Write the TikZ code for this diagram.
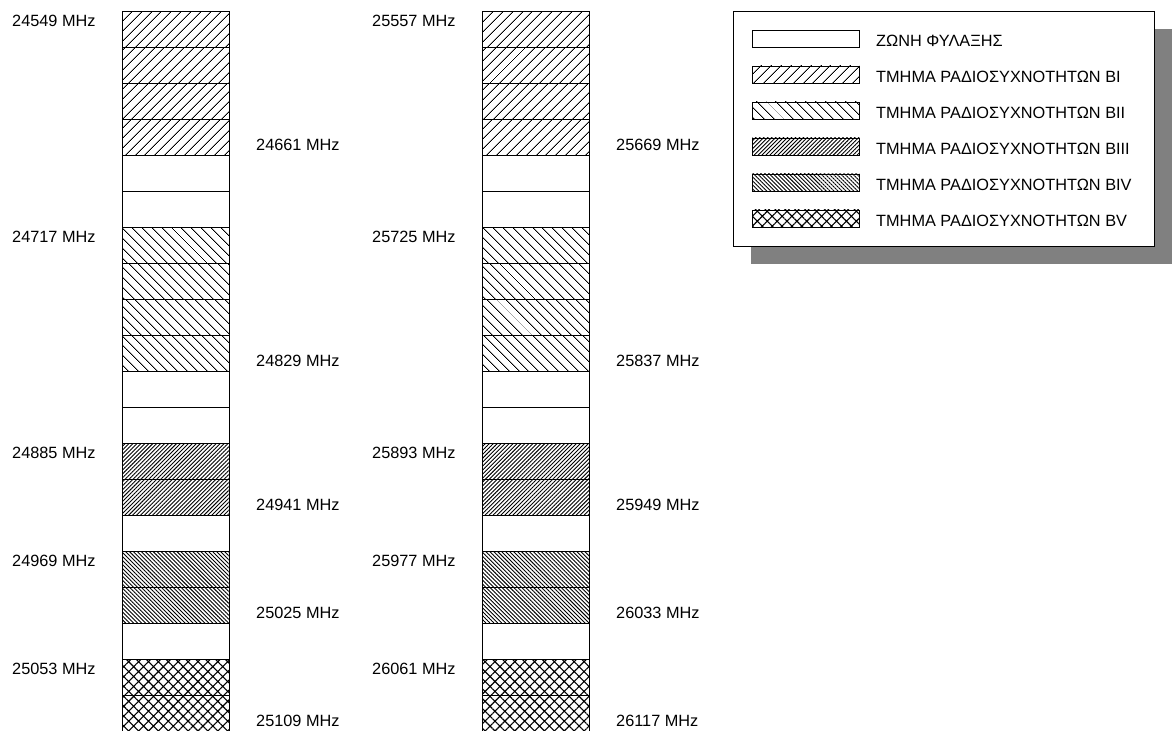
\documentclass[tikz,border=0pt]{standalone}
\usepackage{fontspec}
\setmainfont{Liberation Sans}
\usetikzlibrary{patterns.meta}
\begin{document}
\begin{tikzpicture}[x=1pt,y=-1pt,
  font=\fontsize{16.3}{19}\selectfont,
  cell/.style={draw, line width=0.9pt, inner sep=0pt, anchor=north west,
               minimum width=107pt, minimum height=36pt},
  sw/.style={draw, line width=0.9pt, inner sep=0pt, anchor=north west,
               minimum width=107pt, minimum height=17pt},
  pat0/.style={fill=white},
  pat1/.style={pattern={Lines[angle=45,distance=6.9pt,line width=0.95pt]}},
  pat2/.style={pattern={Lines[angle=-45,distance=6.9pt,line width=0.95pt]}},
  pat3/.style={pattern={Lines[angle=45,distance=2.8pt,line width=0.9pt]}},
  pat4/.style={pattern={Lines[angle=-45,distance=2.8pt,line width=0.9pt]}},
  pat5/.style={pattern={Hatch[angle=45,distance=7pt,line width=1.1pt]}},
  lbl/.style={anchor=west, inner sep=0pt}
]
\useasboundingbox (0,0) rectangle (1176,731);
\fill[white] (0,0) rectangle (1176,731);

% columns
\foreach \col/\xo in {A/122, B/482}{
  \foreach \t [count=\i from 0] in {1,1,1,1,0,0,2,2,2,2,0,0,3,3,0,4,4,0,5,5}{
    \node[cell, pat\t] (c\col\i) at (\xo, {11+36*\i}) {};
  }
}

% left column labels
\node[lbl] (lA1) at (12,21)  {24549 MHz};
\node[lbl] (lA2) at (12,237) {24717 MHz};
\node[lbl] (lA3) at (12,453) {24885 MHz};
\node[lbl] (lA4) at (12,561) {24969 MHz};
\node[lbl] (lA5) at (12,669) {25053 MHz};
\node[lbl] (rA1) at (256,145) {24661 MHz};
\node[lbl] (rA2) at (256,361) {24829 MHz};
\node[lbl] (rA3) at (256,505) {24941 MHz};
\node[lbl] (rA4) at (256,613) {25025 MHz};
\node[lbl] (rA5) at (256,721) {25109 MHz};

% right column labels
\node[lbl] (lB1) at (372,21)  {25557 MHz};
\node[lbl] (lB2) at (372,237) {25725 MHz};
\node[lbl] (lB3) at (372,453) {25893 MHz};
\node[lbl] (lB4) at (372,561) {25977 MHz};
\node[lbl] (lB5) at (372,669) {26061 MHz};
\node[lbl] (rB1) at (616,145) {25669 MHz};
\node[lbl] (rB2) at (616,361) {25837 MHz};
\node[lbl] (rB3) at (616,505) {25949 MHz};
\node[lbl] (rB4) at (616,613) {26033 MHz};
\node[lbl] (rB5) at (616,721) {26117 MHz};

% legend
\fill[gray] (751,29) rectangle (1172,264);
\draw[fill=white, line width=0.9pt] (733,11) rectangle (1154,246);
\foreach \t/\txt [count=\k from 0] in {0/ΖΩΝΗ ΦΥΛΑΞΗΣ,
    1/ΤΜΗΜΑ ΡΑΔΙΟΣΥΧΝΟΤΗΤΩΝ BI,
    2/ΤΜΗΜΑ ΡΑΔΙΟΣΥΧΝΟΤΗΤΩΝ BII,
    3/ΤΜΗΜΑ ΡΑΔΙΟΣΥΧΝΟΤΗΤΩΝ BIII,
    4/ΤΜΗΜΑ ΡΑΔΙΟΣΥΧΝΟΤΗΤΩΝ BIV,
    5/ΤΜΗΜΑ ΡΑΔΙΟΣΥΧΝΟΤΗΤΩΝ BV}{
  \node[sw, pat\t] (s\k) at (752, {29.5+36*\k}) {};
  \node[lbl] (t\k) at (876, {40.5+36*\k}) {\txt};
}
\end{tikzpicture}
\end{document}
